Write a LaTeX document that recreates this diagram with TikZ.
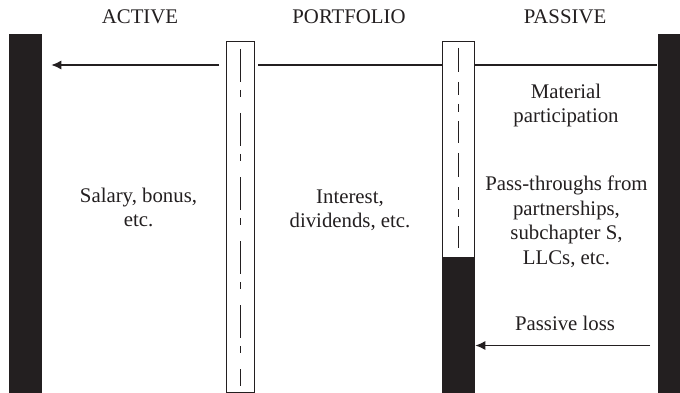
\documentclass[tikz,border=0pt]{standalone}
\usepackage{fontspec}
\setmainfont{Liberation Serif}
\usetikzlibrary{arrows.meta}
\definecolor{ink}{RGB}{35,31,32}

\begin{document}
\begin{tikzpicture}[x=1pt, y=-1pt, line width=1.3pt, color=ink,
    bar/.style={fill=ink, inner sep=0pt, anchor=north west, minimum height=360pt},
    column/.style={draw=ink, fill=white, inner sep=0pt, anchor=north west},
    flow/.style={-{Latex[length=10pt,width=9pt]}},
    lbl/.style={font=\fontsize{20.8}{24.5}\selectfont, align=center, anchor=base, inner sep=0pt}]
  \fill[white] (0,0) rectangle (680,393);
  \useasboundingbox (0,0) rectangle (680,393);

  % outer bars
  \node[bar, minimum width=33pt] (active) at (8,33) {};
  \node[bar, minimum width=23pt] (passive) at (657,33) {};

  % the two columns
  \node[column, minimum width=28pt, minimum height=351pt] (portcol) at (226,41) {};
  \node[column, minimum width=32pt, minimum height=352pt] (passcol) at (442,41) {};
  \node[bar, minimum width=32pt, minimum height=136pt, draw=ink] (losspart) at (442,257) {};

  \draw[dash pattern=on 33pt off 8pt on 7pt off 16pt]
        ([yshift=-8pt]portcol.north) -- ([yshift=7pt]portcol.south);
  \draw[dash pattern=on 24pt off 10pt on 13pt off 9pt on 8pt off 9pt on 22pt off 10pt]
        ([yshift=-7pt]passcol.north) -- ([yshift=4pt]losspart.north);

  % headings
  \node[lbl] (hactive) at (140,24) {ACTIVE};
  \node[lbl] (hport) at (349,24) {PORTFOLIO};
  \node[lbl] (hpass) at (565,24) {PASSIVE};

  % flows
  \coordinate (top) at (0,65);
  \coordinate (low) at (0,345.5);
  \draw (passive.west |- top) -- (passcol.east |- top);
  \draw (passcol.west |- top) -- ([xshift=3pt]portcol.east |- top);
  \draw[flow] ([xshift=-7pt]portcol.west |- top) -- ([xshift=9pt]active.east |- top);
  \draw[flow] ([xshift=-7pt]passive.west |- low) -- (losspart.east |- low);

  % texts (base = baseline of the last line)
  \node[lbl] (salary) at (138.5,226.7) {Salary, bonus,\\etc.};
  \node[lbl] (interest) at (350,227.7) {Interest,\\dividends, etc.};
  \node[lbl] (material) at (566,122.7) {Material\\participation};
  \node[lbl] (passthru) at (566.5,264) {Pass-throughs from\\partnerships,\\subchapter S,\\LLCs, etc.};
  \node[lbl] (loss) at (565,330.7) {Passive loss};
\end{tikzpicture}
\end{document}
